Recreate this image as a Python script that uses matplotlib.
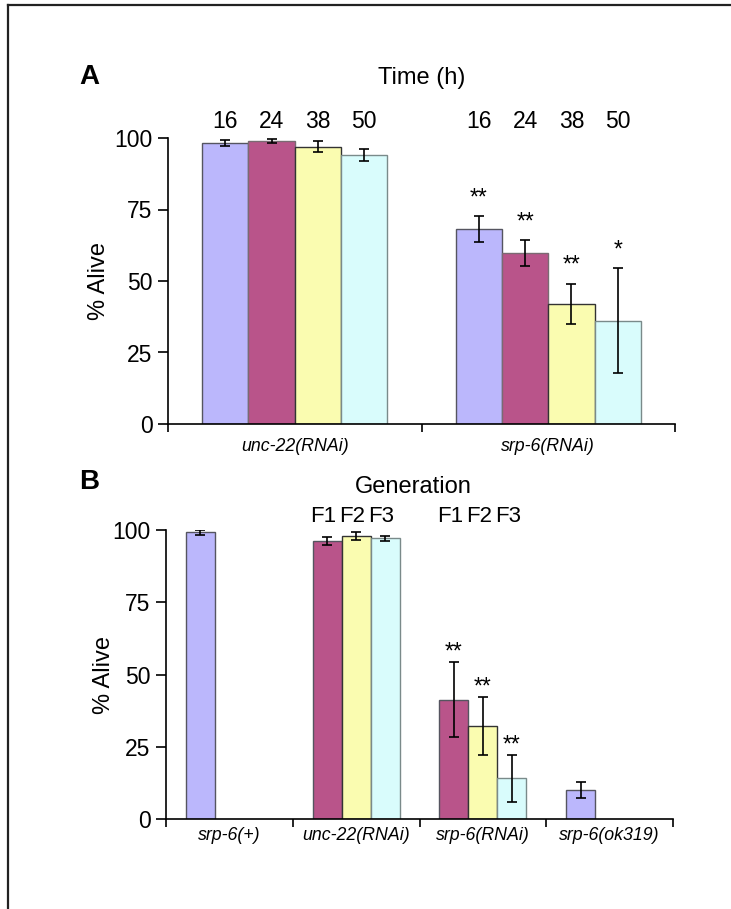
import matplotlib
matplotlib.use("Agg")
import matplotlib.pyplot as plt
from matplotlib.lines import Line2D
import numpy as np

plt.rcParams['font.family'] = ['Liberation Sans', 'DejaVu Sans']

# ---------------- data ----------------
# Panel A
a_groups = ["unc-22(RNAi)", "srp-6(RNAi)"]
a_times = ["16", "24", "38", "50"]
a_vals = [[98.2, 99.0, 97.0, 94.0],
          [68.2, 59.8, 42.0, 36.1]]
a_errs = [[1.1, 0.7, 2.0, 2.0],
          [4.4, 4.4, 7.0, 18.3]]
a_sig = [["", "", "", ""],
         ["**", "**", "**", "*"]]

# Panel B
b_groups = ["srp-6(+)", "unc-22(RNAi)", "srp-6(RNAi)", "srp-6(ok319)"]
b_gens = ["F1", "F2", "F3"]
b_vals = [[99.2, None, None],
          [96.2, 98.0, 97.1],
          [41.3, 32.1, 14.1],
          [9.9, None, None]]
b_errs = [[0.9, None, None],
          [1.4, 1.4, 0.9],
          [12.9, 10.0, 8.1],
          [2.8, None, None]]
b_sig = [["", "", ""],
         ["", "", ""],
         ["**", "**", "**"],
         ["", "", ""]]
b_gen_label_groups = [1, 2]

# ---------------- styles ----------------
PURPLE = "#bbb7fc"
MAROON = "#b9548a"
YELLOW = "#fafcb0"
CYAN = "#d9fcfc"
a_colors = [PURPLE, MAROON, YELLOW, CYAN]
a_edges = ["#555560", "#7a6a72", "#333333", "#7a8a8a"]
b_first_colors = [PURPLE, MAROON, MAROON, PURPLE]
b_colors = [None, YELLOW, CYAN]
b_edges = ["#555560", "#333333", "#7a8a8a"]

BIG = 16.5
CAT = 12.8
STAR = 16.5

fig = plt.figure(figsize=(7.31, 9.09), dpi=100)

# frame lines (left and top)
fig.add_artist(Line2D([8 / 731, 8 / 731], [0, 1 - 5 / 909], color="#222222", lw=1.6,
                      transform=fig.transFigure))
fig.add_artist(Line2D([8 / 731, 1], [1 - 5 / 909, 1 - 5 / 909], color="#222222", lw=1.6,
                      transform=fig.transFigure))

err_kw = dict(ecolor="black", elinewidth=1.2, capsize=3.5, capthick=1.2)


def style_axes(ax, ngroups, label_pad):
    ax.set_ylim(0, 100)
    ax.set_xlim(0, ngroups)
    ax.set_yticks([0, 25, 50, 75, 100])
    ax.spines['top'].set_visible(False)
    ax.spines['right'].set_visible(False)
    for s in ['left', 'bottom']:
        ax.spines[s].set_linewidth(1.2)
    ax.tick_params(axis='y', direction='out', length=7, width=1.2, labelsize=BIG, pad=4)
    ax.set_xticks(np.arange(ngroups + 1))
    ax.set_xticklabels([])
    ax.tick_params(axis='x', which='major', direction='out', length=6, width=1.2)
    ax.set_xticks(np.arange(ngroups) + 0.5, minor=True)
    ax.tick_params(axis='x', which='minor', length=0, labelsize=CAT, pad=label_pad)
    ax.set_ylabel("% Alive", fontsize=17)


# ---------------- Panel A ----------------
axA = fig.add_axes([168 / 731, 1 - 424 / 909, 507 / 731, 286 / 909])
wA = 0.1825
for gi, g in enumerate(a_groups):
    centre = gi + 0.5
    for si in range(len(a_times)):
        x = centre + (si - 1.5) * wA
        axA.bar(x, a_vals[gi][si], width=wA, color=a_colors[si], edgecolor=a_edges[si],
                linewidth=1.0, zorder=2)
        axA.errorbar(x, a_vals[gi][si], yerr=a_errs[gi][si], fmt='none', zorder=3, **err_kw)
        if a_sig[gi][si]:
            axA.annotate(a_sig[gi][si], (x, a_vals[gi][si] + a_errs[gi][si]),
                         xytext=(0, 5), textcoords='offset points', ha='center',
                         va='bottom', fontsize=STAR)
        axA.text(x, 105.6, a_times[si], ha='center', va='center', fontsize=BIG,
                 clip_on=False)
style_axes(axA, len(a_groups), 10)
axA.set_xticklabels(a_groups, minor=True, style='italic')
axA.text(1.0, 121, "Time (h)", ha='center', va='center', fontsize=17, clip_on=False)
axA.yaxis.set_label_coords(-0.115, 0.5)
fig.text(89 / 731, 1 - 77 / 909, "A", fontsize=20, fontweight='bold', ha='center', va='center')

# ---------------- Panel B ----------------
axB = fig.add_axes([166 / 731, 1 - 819 / 909, 507 / 731, 289 / 909])
wB = 0.229
for gi, g in enumerate(b_groups):
    centre = gi + 0.5
    for si in range(len(b_gens)):
        v = b_vals[gi][si]
        if v is None:
            continue
        x = centre + (si - 1) * wB
        col = b_first_colors[gi] if si == 0 else b_colors[si]
        ec = b_edges[si]
        axB.bar(x, v, width=wB, color=col, edgecolor=ec, linewidth=1.0, zorder=2)
        axB.errorbar(x, v, yerr=b_errs[gi][si], fmt='none', zorder=3, **err_kw)
        if b_sig[gi][si]:
            axB.annotate(b_sig[gi][si], (x, v + b_errs[gi][si]),
                         xytext=(0, -1), textcoords='offset points', ha='center',
                         va='bottom', fontsize=STAR)
for gi in b_gen_label_groups:
    centre = gi + 0.5
    for si, lab in enumerate(b_gens):
        x = centre + (si - 1) * wB - 0.03
        axB.text(x, 104.5, lab, ha='center', va='center', fontsize=16, clip_on=False)
style_axes(axB, len(b_groups), 6)
axB.set_xticklabels(b_groups, minor=True, style='italic')
axB.text(1.95, 114.9, "Generation", ha='center', va='center', fontsize=17, clip_on=False)
axB.yaxis.set_label_coords(-0.1, 0.5)
fig.text(89 / 731, 1 - 482 / 909, "B", fontsize=20, fontweight='bold', ha='center', va='center')

fig.savefig("out.png", dpi=100)
